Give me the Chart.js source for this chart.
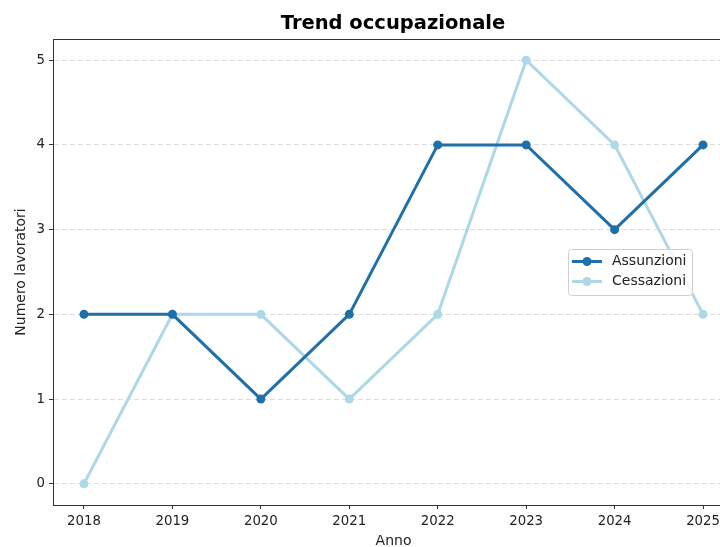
<!DOCTYPE html>
<html>
<head>
<meta charset="utf-8">
<script src="https://cdn.jsdelivr.net/npm/chart.js@4"></script>
<style>
  html, body { margin: 0; padding: 0; background: #fff; overflow: hidden; }
  #wrap { width: 720px; height: 547px; overflow: hidden; position: relative; }
  #wrap canvas { position: absolute; left: 0; top: 0; }
</style>
</head>
<body>
<div id="wrap"><canvas id="myChart" width="760" height="547"></canvas></div>
<script>
// dati
var anni = [2018, 2019, 2020, 2021, 2022, 2023, 2024, 2025];
var assunzioni = [2, 2, 1, 2, 4, 4, 3, 4];
var cessazioni = [0, 2, 2, 1, 2, 5, 4, 2];
var yTicks = [0, 1, 2, 3, 4, 5];

var coloreAss = "#1f6fa8";
var coloreCes = "#add8e6";

function punti(valori) {
  return anni.map(function (a, i) { return {x: a, y: valori[i]}; });
}

// titolo, cornice e legenda disegnati a mano
var extra = {
  id: "extra",
  afterDraw: function (chart) {
    var ctx = chart.ctx;
    var a = chart.chartArea;
    ctx.save();
    // cornice
    ctx.strokeStyle = "#333";
    ctx.lineWidth = 1;
    ctx.strokeRect(a.left + 0.5, a.top + 0.5, a.right - a.left, a.bottom - a.top);
    // titolo
    ctx.fillStyle = "#000";
    ctx.font = "bold 19.5px 'DejaVu Sans'";
    ctx.textAlign = "center";
    ctx.textBaseline = "middle";
    ctx.fillText("Trend occupazionale", 393, 24);
    // legenda
    var bx = 568, by = 249, bw = 124, bh = 46;
    ctx.fillStyle = "rgba(255,255,255,0.85)";
    ctx.strokeStyle = "#d0d0d0";
    ctx.beginPath();
    ctx.roundRect(bx + 0.5, by + 0.5, bw, bh, 3);
    ctx.fill();
    ctx.stroke();
    var voci = [["Assunzioni", coloreAss], ["Cessazioni", coloreCes]];
    voci.forEach(function (v, i) {
      var y = by + 12.5 + i * 20;
      ctx.strokeStyle = v[1];
      ctx.lineWidth = 3;
      ctx.beginPath();
      ctx.moveTo(572, y);
      ctx.lineTo(602, y);
      ctx.stroke();
      ctx.fillStyle = v[1];
      ctx.beginPath();
      ctx.arc(587, y, 4.5, 0, Math.PI * 2);
      ctx.fill();
      ctx.fillStyle = "#222";
      ctx.font = "14px 'DejaVu Sans'";
      ctx.textAlign = "left";
      ctx.fillText(v[0], 612, y);
    });
    ctx.restore();
  }
};

new Chart("myChart", {
  type: "line",
  data: {
    datasets: [{
      label: "Assunzioni",
      data: punti(assunzioni),
      borderColor: coloreAss,
      backgroundColor: coloreAss,
      borderWidth: 3,
      pointRadius: 4.5,
      pointBorderWidth: 0,
      pointHoverRadius: 4.5,
      tension: 0
    }, {
      label: "Cessazioni",
      data: punti(cessazioni),
      borderColor: coloreCes,
      backgroundColor: coloreCes,
      borderWidth: 3,
      pointRadius: 4.5,
      pointBorderWidth: 0,
      pointHoverRadius: 4.5,
      tension: 0
    }]
  },
  options: {
    responsive: false,
    animation: false,
    layout: {padding: {left: 0, right: 26, top: 39, bottom: 0}},
    plugins: {
      legend: {display: false},
      title: {display: false},
      tooltip: {enabled: false}
    },
    scales: {
      x: {
        type: "linear",
        min: 2017.65,
        max: 2025.35,
        afterBuildTicks: function (s) { s.ticks = anni.map(function (a) { return {value: a}; }); },
        afterFit: function (s) { s.height = 42; },
        ticks: {
          color: "#222",
          font: {family: "DejaVu Sans", size: 13.3},
          padding: 5,
          callback: function (v) { return String(v); }
        },
        grid: {drawOnChartArea: false, tickLength: 4, tickColor: "#333"},
        border: {color: "#333"},
        title: {
          display: true,
          text: "Anno",
          color: "#222",
          font: {family: "DejaVu Sans", size: 14},
          padding: {top: 0, bottom: -3}
        }
      },
      y: {
        min: -0.25,
        max: 5.25,
        afterBuildTicks: function (s) { s.ticks = yTicks.map(function (t) { return {value: t}; }); },
        afterFit: function (s) { s.width = 53; },
        ticks: {
          color: "#222",
          font: {family: "DejaVu Sans", size: 13.3},
          padding: 4
        },
        grid: {
          color: "#dddddd",
          tickLength: 4,
          tickColor: "#333",
          tickBorderDash: []
        },
        border: {color: "#333", dash: [5, 3]},
        title: {
          display: true,
          text: "Numero lavoratori",
          color: "#222",
          font: {family: "DejaVu Sans", size: 14},
          padding: {top: 13, bottom: 0}
        }
      }
    }
  },
  plugins: [extra]
});
</script>
</body>
</html>
